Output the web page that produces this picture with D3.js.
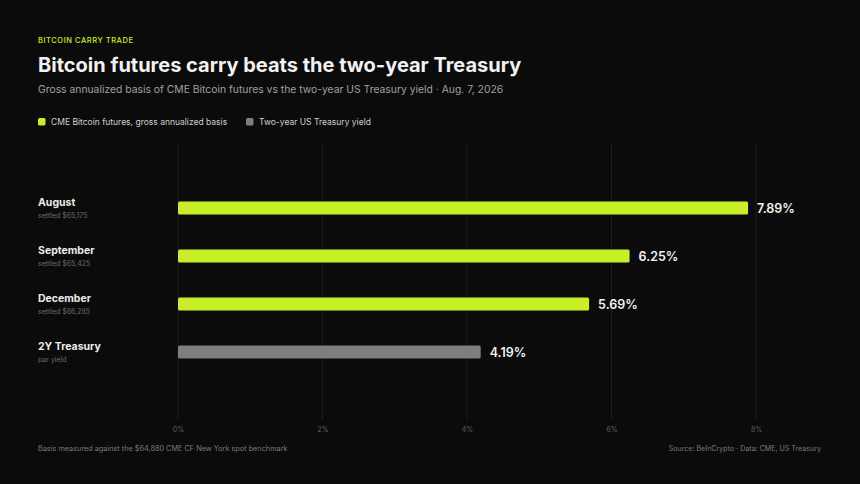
<!DOCTYPE html>
<html>
<head>
<meta charset="utf-8">
<script src="https://cdn.jsdelivr.net/npm/d3@7"></script>
<style>
  html, body { margin: 0; padding: 0; background: #0b0b0b; }
  svg { display: block; font-family: Inter, "Noto Sans", sans-serif; }
</style>
</head>
<body>
<svg id="chart" width="860" height="484"></svg>
<script>
// Chart data
const categories = ["August", "September", "December", "2Y Treasury"];
const subLabels = ["settled $65,175", "settled $65,425", "settled $66,285", "par yield"];
const values = [7.89, 6.25, 5.69, 4.19];
const series = ["futures", "futures", "futures", "treasury"];
const tickValues = [0, 2, 4, 6, 8];
const legendLabels = ["CME Bitcoin futures, gross annualized basis", "Two-year US Treasury yield"];

const colors = { futures: "#c9ef2b", treasury: "#7e7e7e" };

const svg = d3.select("#chart");
const width = 860, height = 484;

svg.append("rect").attr("width", width).attr("height", height).attr("fill", "#0b0b0b");

// Header
svg.append("text")
    .attr("x", 38).attr("y", 43)
    .attr("fill", "#c9ef2b")
    .attr("font-size", 7.5)
    .attr("font-weight", 500)
    .attr("letter-spacing", 0.55)
    .text("BITCOIN CARRY TRADE");

svg.append("text")
    .attr("x", 38).attr("y", 72)
    .attr("fill", "#f2f2f2")
    .attr("font-size", 20)
    .attr("font-weight", 700)
    .text("Bitcoin futures carry beats the two-year Treasury");

svg.append("text")
    .attr("x", 38).attr("y", 93)
    .attr("fill", "#a0a0a0")
    .attr("font-size", 10.35)
    .text("Gross annualized basis of CME Bitcoin futures vs the two-year US Treasury yield · Aug. 7, 2026");

// Legend
const legend = svg.append("g").attr("transform", "translate(38,118)");
const legendX = [0, 208];
legendLabels.forEach((label, i) => {
    const g = legend.append("g").attr("transform", `translate(${legendX[i]},0)`);
    g.append("rect")
        .attr("width", 7.5).attr("height", 7.5).attr("rx", 1.5)
        .attr("fill", i === 0 ? colors.futures : colors.treasury);
    g.append("text")
        .attr("x", 13).attr("y", 7)
        .attr("fill", "#cfcfcf")
        .attr("font-size", 8.5)
        .text(label);
});

// Scales
const x = d3.scaleLinear().domain([0, 8]).range([178, 756]);
const y = d3.scaleBand().domain(categories).range([184, 376]).paddingInner(0.73).paddingOuter(0.365);

// Grid
svg.append("g")
    .selectAll("line")
    .data(tickValues)
    .join("line")
    .attr("x1", d => x(d)).attr("x2", d => x(d))
    .attr("y1", 144).attr("y2", 420)
    .attr("stroke", "#1d1d1d")
    .attr("stroke-width", 1);

// Axis
const axis = d3.axisBottom(x)
    .tickValues(tickValues)
    .tickFormat(d => d + "%")
    .tickSize(0)
    .tickPadding(0);

svg.append("g")
    .attr("transform", "translate(0,427)")
    .call(axis)
    .call(g => g.select(".domain").remove())
    .call(g => g.selectAll("text")
        .attr("fill", "#5f5f5f")
        .attr("font-size", 7)
        .attr("font-family", "Inter, sans-serif"));

// Bars
const rows = categories.map((c, i) => ({ cat: c, sub: subLabels[i], value: values[i], series: series[i] }));

svg.append("g")
    .selectAll("rect")
    .data(rows)
    .join("rect")
    .attr("x", x(0))
    .attr("y", d => y(d.cat))
    .attr("width", d => x(d.value) - x(0))
    .attr("height", y.bandwidth())
    .attr("rx", 1.5)
    .attr("fill", d => colors[d.series]);

// Value labels
svg.append("g")
    .selectAll("text")
    .data(rows)
    .join("text")
    .attr("x", d => x(d.value) + 9)
    .attr("y", d => y(d.cat) + y.bandwidth() / 2 + 4.5)
    .attr("fill", "#f2f2f2")
    .attr("font-size", 12.5)
    .attr("font-weight", 600)
    .text(d => d.value.toFixed(2) + "%");

// Category labels
const labels = svg.append("g")
    .selectAll("g")
    .data(rows)
    .join("g")
    .attr("transform", d => `translate(38,${y(d.cat) + y.bandwidth() / 2})`);

labels.append("text")
    .attr("y", -2.5)
    .attr("fill", "#ececec")
    .attr("font-size", 10.5)
    .attr("font-weight", 700)
    .text(d => d.cat);

labels.append("text")
    .attr("y", 10)
    .attr("fill", "#6a6a6a")
    .attr("font-size", 7)
    .text(d => d.sub);

// Footer
svg.append("text")
    .attr("x", 38).attr("y", 451)
    .attr("fill", "#7a7a7a")
    .attr("font-size", 7.3)
    .text("Basis measured against the $64,880 CME CF New York spot benchmark");

svg.append("text")
    .attr("x", 821).attr("y", 451)
    .attr("text-anchor", "end")
    .attr("fill", "#7a7a7a")
    .attr("font-size", 7.1)
    .text("Source: BeInCrypto · Data: CME, US Treasury");
</script>
</body>
</html>
